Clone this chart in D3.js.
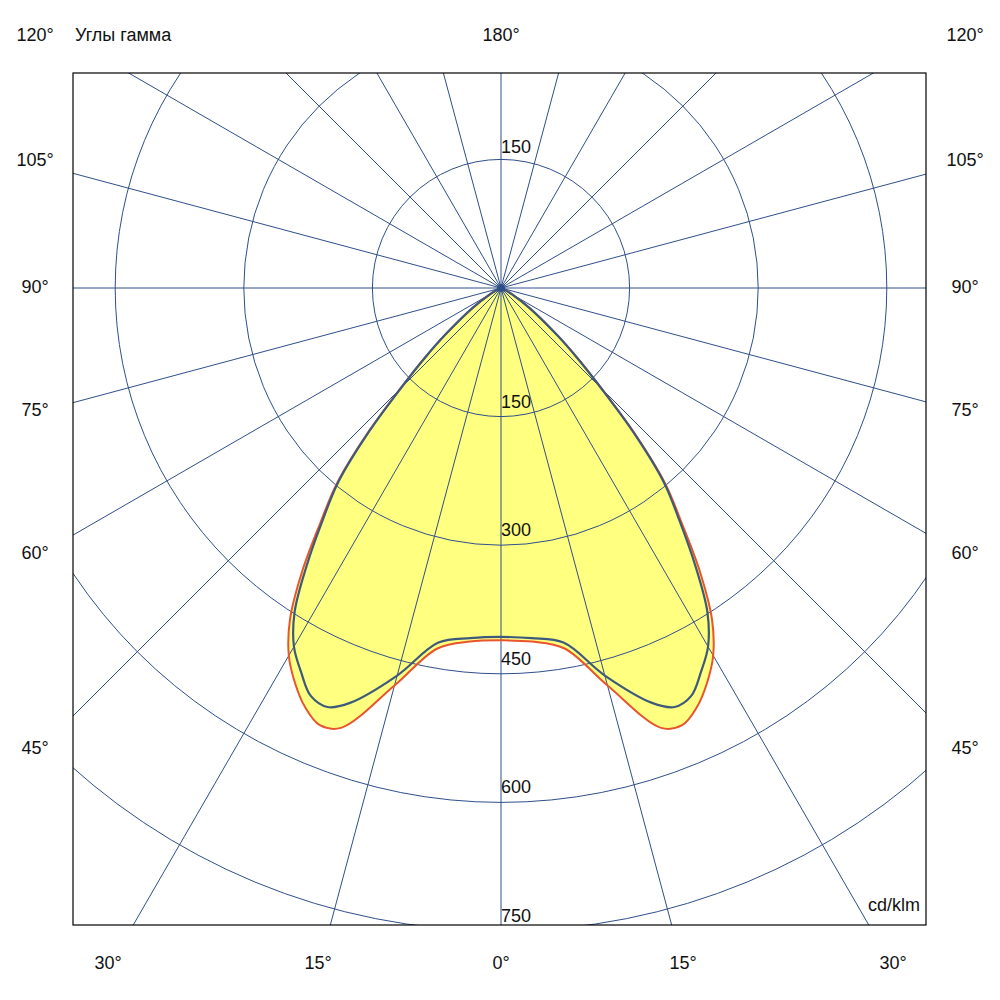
<!DOCTYPE html>
<html>
<head>
<meta charset="utf-8">
<script src="https://cdn.jsdelivr.net/npm/d3@7"></script>
<style>
body{margin:0;background:#fff}
text{font-family:"Liberation Sans",Arial,sans-serif;font-size:18px;fill:#111}
</style>
</head>
<body>
<svg id="chart" width="1000" height="1000"></svg>
<script>
// gamma angles (deg) and intensities (cd/klm), symmetric curves
var gammas = [0,5,10,15,20,22.5,25,27.5,30,32.5,35,37.5,40,42.5,45,47.5,50,55,60,65,70,90];
var curveBlue = [407,410,420,468,515,529,525,505,483,448,395,342,295,230,165,120,85,40,15,5,0,0];
var curveRed  = [411,414,427,480,546,552,540,520,495,458,405,347,298,232,166,121,86,40,15,5,0,0];
var rings = [150,300,450,600,750];
var sideLabels = [120,105,90,75,60,45];
var bottomLabels = [30,15,0,15,30];

var svg = d3.select("#chart");
var cx = 501, cy = 288;
var box = {x0:73,y0:73,x1:926,y1:925};
var r = d3.scaleLinear().domain([0,750]).range([0,643]);

svg.append("clipPath").attr("id","clip").append("rect")
  .attr("x",box.x0).attr("y",box.y0).attr("width",box.x1-box.x0).attr("height",box.y1-box.y0);

var g = svg.append("g").attr("clip-path","url(#clip)");
var gridCol = "#2f4f8a";

// build full symmetric curve, gamma -> angle in lineRadial (0 = up, clockwise)
function fullCurve(vals){
  var pts = [];
  for(var i=gammas.length-1;i>0;i--) pts.push([Math.PI + gammas[i]*Math.PI/180, vals[i]]);
  for(var j=0;j<gammas.length;j++) pts.push([Math.PI - gammas[j]*Math.PI/180, vals[j]]);
  return pts;
}
var line = d3.lineRadial().angle(d=>d[0]).radius(d=>r(d[1])).curve(d3.curveCatmullRom);
var plot = g.append("g").attr("transform","translate("+cx+","+cy+")");
plot.append("path").attr("d",line(fullCurve(curveRed))).attr("fill","#ffff80");
plot.append("path").attr("d",line(fullCurve(curveBlue))).attr("fill","#ffff80");

// grid
rings.forEach(v=>{
  plot.append("circle").attr("r",r(v)).attr("fill","none").attr("stroke",gridCol).attr("stroke-width",1);
});
d3.range(0,360,15).forEach(a=>{
  var t = a*Math.PI/180;
  plot.append("line").attr("x1",0).attr("y1",0)
    .attr("x2",1500*Math.sin(t)).attr("y2",-1500*Math.cos(t))
    .attr("stroke",gridCol).attr("stroke-width",1);
});

plot.append("path").attr("d",line(fullCurve(curveRed))).attr("fill","none").attr("stroke","#e8542c").attr("stroke-width",2);
plot.append("path").attr("d",line(fullCurve(curveBlue))).attr("fill","none").attr("stroke","#3d5a7a").attr("stroke-width",2.2);
plot.append("circle").attr("r",4).attr("fill",gridCol);

// ring labels
plot.append("text").attr("x",0).attr("y",-r(150)-6).text("150");
rings.forEach(v=>{
  plot.append("text").attr("x",0).attr("y",r(v)-9).text(v);
});

// frame
svg.append("rect").attr("x",box.x0).attr("y",box.y0).attr("width",box.x1-box.x0).attr("height",box.y1-box.y0)
  .attr("fill","none").attr("stroke","#000").attr("stroke-width",1.2);

// angle labels on sides
var sideY = d3.scaleOrdinal().domain(sideLabels).range([35,160,287,410,553,748]);
sideLabels.forEach(a=>{
  svg.append("text").attr("x",35).attr("y",sideY(a)).attr("dy","0.35em").attr("text-anchor","middle").text(a+"°");
  svg.append("text").attr("x",965).attr("y",sideY(a)).attr("dy","0.35em").attr("text-anchor","middle").text(a+"°");
});
var bx = [108,318,501,683,893];
bottomLabels.forEach((a,i)=>{
  svg.append("text").attr("x",bx[i]).attr("y",963).attr("dy","0.35em").attr("text-anchor","middle").text(a+"°");
});
svg.append("text").attr("x",501).attr("y",35).attr("dy","0.35em").attr("text-anchor","middle").text("180°");
svg.append("text").attr("x",75).attr("y",35).attr("dy","0.35em").text("Углы гамма");
svg.append("text").attr("x",920).attr("y",905).attr("dy","0.35em").attr("text-anchor","end").text("cd/klm");
</script>
</body>
</html>
